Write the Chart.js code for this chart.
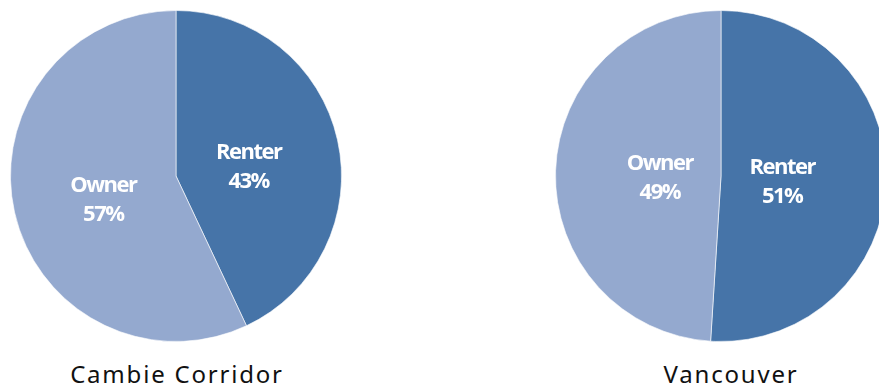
<!DOCTYPE html>
<html>
<head>
<meta charset="utf-8">
<script src="https://cdn.jsdelivr.net/npm/chart.js@4"></script>
<style>
  html, body { margin: 0; padding: 0; background: #fff; overflow: hidden; }
  body { width: 879px; height: 390px; position: relative; }
  canvas { position: absolute; }
  .title {
    position: absolute; top: 357px; width: 320px; text-align: center;
    font-family: "Noto Sans", sans-serif; font-size: 24px; letter-spacing: 1.8px;
    color: #111;
  }
</style>
</head>
<body>
<canvas id="pieLeft" width="332" height="332" style="left:10px; top:10px;"></canvas>
<canvas id="pieRight" width="332" height="332" style="left:555px; top:10px;"></canvas>
<div class="title" style="left:17px;">Cambie Corridor</div>
<div class="title" style="left:571px;">Vancouver</div>
<script>
// 數據
const categories = ['Renter', 'Owner'];
const cambieValues = [43, 57];
const vancouverValues = [51, 49];
const colors = ['#4674a8', '#94a9cf'];

// 扇區內標籤
const sliceLabels = {
    id: 'sliceLabels',
    afterDatasetsDraw(chart, args, opts) {
        const ctx = chart.ctx;
        const meta = chart.getDatasetMeta(0);
        const values = chart.data.datasets[0].data;
        ctx.save();
        ctx.fillStyle = '#ffffff';
        ctx.font = 'bold 22px "Open Sans", sans-serif';
        ctx.letterSpacing = '-1.5px';
        ctx.textAlign = 'center';
        ctx.textBaseline = 'middle';
        meta.data.forEach((arc, i) => {
            const p = arc.getProps(['x', 'y', 'startAngle', 'endAngle', 'outerRadius'], true);
            const mid = (p.startAngle + p.endAngle) / 2;
            const r = p.outerRadius * opts.radius;
            const x = p.x + Math.cos(mid) * r;
            const y = p.y + Math.sin(mid) * r + opts.shift;
            ctx.fillText(chart.data.labels[i], x, y - 14);
            ctx.fillText(values[i] + '%', x, y + 15);
        });
        ctx.restore();
    }
};

function makePie(id, values, labelRadius, shift) {
    return new Chart(document.getElementById(id), {
        type: 'pie',
        data: {
            labels: categories,
            datasets: [{
                data: values,
                backgroundColor: colors,
                borderColor: 'rgba(255,255,255,0.6)',
                borderWidth: 1
            }]
        },
        options: {
            responsive: false,
            animation: false,
            layout: { padding: 0 },
            plugins: {
                legend: { display: false },
                tooltip: { enabled: false },
                sliceLabels: { radius: labelRadius, shift: shift }
            }
        },
        plugins: [sliceLabels]
    });
}

makePie('pieLeft', cambieValues, 0.45, 7);
makePie('pieRight', vancouverValues, 0.37, 4);
</script>
</body>
</html>
